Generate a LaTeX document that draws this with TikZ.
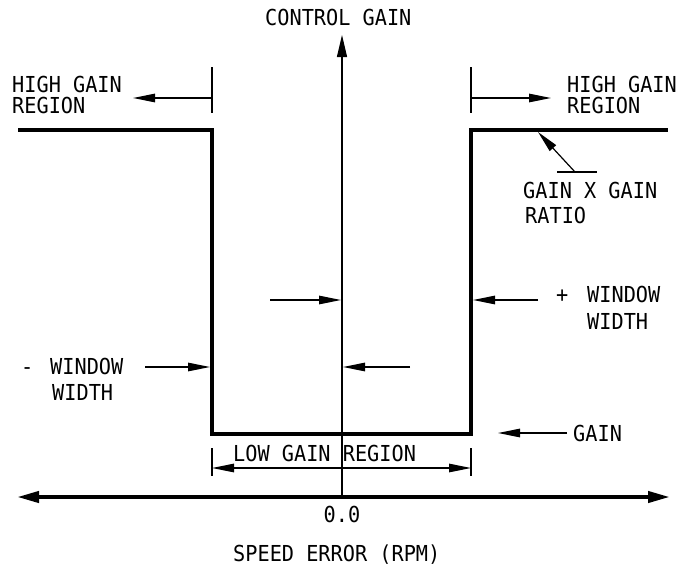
\documentclass[tikz,border=0pt]{standalone}
\usepackage{fontspec}
\newfontfamily\cadfont[FakeStretch=0.92]{DejaVu Sans Mono}
\usetikzlibrary{arrows.meta}
\begin{document}
\begin{tikzpicture}[x=1pt,y=-1pt,
  lbl/.style={font=\cadfont\fontsize{22}{24}\selectfont, inner sep=0pt, anchor=base west},
  heavy/.style={line width=4pt},
  fine/.style={line width=1.2pt},
  arr/.style={fine, -{Triangle[length=22pt,width=8.5pt]}},
  dimarr/.style={fine, {Triangle[length=22pt,width=8.5pt]}-{Triangle[length=22pt,width=8.5pt]}},
  bigarr/.style={heavy, {Triangle[length=22pt,width=11pt]}-{Triangle[length=22pt,width=11pt]}},
]
\useasboundingbox (0,0) rectangle (680,565);

% step curve
\coordinate (sL) at (18,130);
\coordinate (c1) at (212,130);
\coordinate (c2) at (212,434);
\coordinate (c3) at (471,434);
\coordinate (c4) at (471,130);
\coordinate (sR) at (668,130);
\draw[heavy, line join=miter] (sL) -- (c1) -- (c2) -- (c3) -- (c4) -- (sR);

% axes
\coordinate (xL) at (17,497);
\coordinate (xR) at (670,497);
\draw[bigarr] (xL) -- (xR);
\coordinate (yB) at (342,497);
\coordinate (yT) at (342,35);
\draw[fine, -{Triangle[length=22pt,width=10pt]}] (yB) -- (yT);

% high gain region markers
\coordinate (tl1) at (212,67);
\coordinate (tl2) at (212,113);
\draw[fine] (tl1) -- (tl2);
\coordinate (al1) at (212,98);
\coordinate (al2) at (133,98);
\draw[arr] (al1) -- (al2);
\coordinate (tr1) at (471,67);
\coordinate (tr2) at (471,113);
\draw[fine] (tr1) -- (tr2);
\coordinate (ar1) at (471,98);
\coordinate (ar2) at (551,98);
\draw[arr] (ar1) -- (ar2);

% gain x gain ratio leader
\coordinate (ld1) at (575,172);
\coordinate (ld2) at (538,132);
\draw[arr] (ld1) -- (ld2);
\coordinate (lh1) at (557,172);
\coordinate (lh2) at (597,172);
\draw[fine] (lh1) -- (lh2);

% inner window arrows
\coordinate (ia1) at (270,300);
\coordinate (ia2) at (341,300);
\draw[arr] (ia1) -- (ia2);
\coordinate (ib1) at (410,367);
\coordinate (ib2) at (343,367);
\draw[arr] (ib1) -- (ib2);

% + window width arrow
\coordinate (pw1) at (538,300);
\coordinate (pw2) at (473,300);
\draw[arr] (pw1) -- (pw2);
% - window width arrow
\coordinate (mw1) at (145,367);
\coordinate (mw2) at (210,367);
\draw[arr] (mw1) -- (mw2);
% gain arrow
\coordinate (ga1) at (567,433);
\coordinate (ga2) at (498,433);
\draw[arr] (ga1) -- (ga2);

% low gain region dimension
\coordinate (dl1) at (212,448);
\coordinate (dl2) at (212,476);
\coordinate (dr1) at (471,448);
\coordinate (dr2) at (471,476);
\draw[fine] (dl1) -- (dl2);
\draw[fine] (dr1) -- (dr2);
\coordinate (dm1) at (212,468);
\coordinate (dm2) at (471,468);
\draw[dimarr] (dm1) -- (dm2);

% labels
\node[lbl] (title) at (265,25) {CONTROL GAIN};
\node[lbl] (hgl1) at (12,92) {HIGH GAIN};
\node[lbl] (hgl2) at (12,113) {REGION};
\node[lbl] (hgr1) at (567,92) {HIGH GAIN};
\node[lbl] (hgr2) at (567,113) {REGION};
\node[lbl] (gxg) at (523,198) {GAIN X GAIN};
\node[lbl] (ratio) at (525,223) {RATIO};
\node[lbl] (plus) at (556,302) {+};
\node[lbl] (pww1) at (587,302) {WINDOW};
\node[lbl] (pww2) at (587,329) {WIDTH};
\node[lbl] (minus) at (21,374) {-};
\node[lbl] (mww1) at (50,374) {WINDOW};
\node[lbl] (mww2) at (52,400) {WIDTH};
\node[lbl] (gain) at (573,441) {GAIN};
\node[lbl] (lgr) at (233,461) {LOW GAIN REGION};
\node[lbl, anchor=base] (zero) at (342,522) {0.0};
\node[lbl] (xlab) at (233,561) {SPEED ERROR (RPM)};
\end{tikzpicture}
\end{document}
